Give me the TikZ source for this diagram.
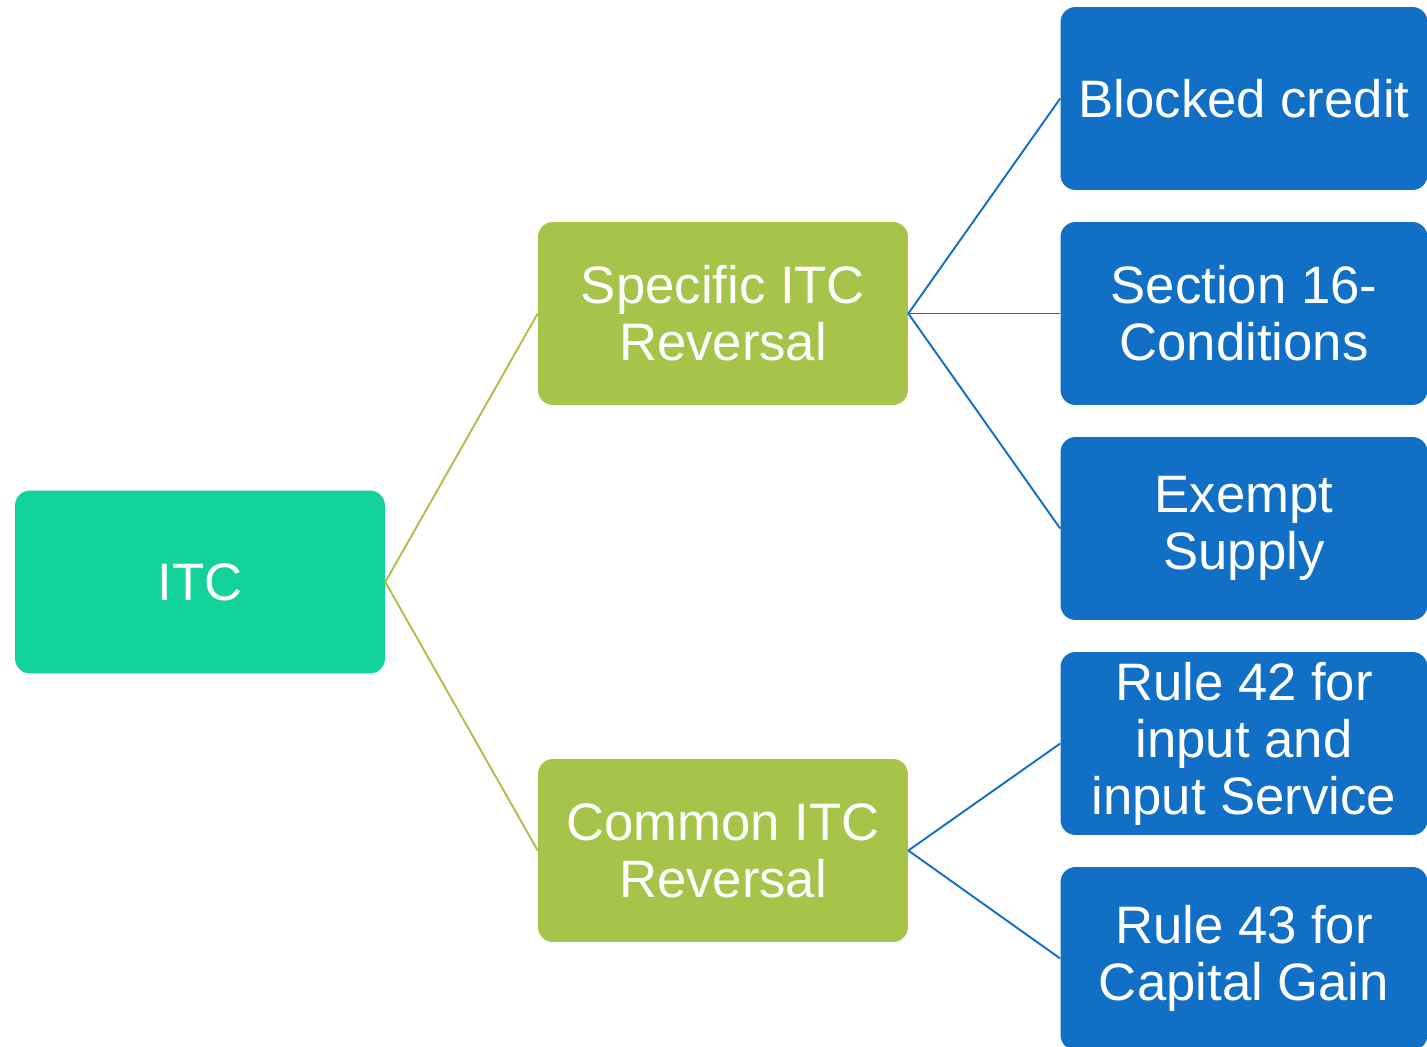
\documentclass[tikz,border=0pt]{standalone}
\usepackage{fontspec}
\setmainfont{Liberation Sans}
\usepackage{tikz}
\usetikzlibrary{positioning}
\definecolor{itcTeal}{HTML}{12D19B}
\definecolor{itcYesil}{HTML}{A6C34A}
\definecolor{itcMavi}{HTML}{1170C6}

\begin{document}
\begin{tikzpicture}[x=0.02cm,y=-0.02cm,
  kutu/.style={rounded corners=0.3cm,minimum width=7.4cm,minimum height=3.66cm,
    align=center,text=white,inner sep=0pt,font=\fontsize{30}{32.5}\selectfont},
  ana/.style={kutu,fill=itcTeal},
  orta/.style={kutu,fill=itcYesil},
  yaprak/.style={kutu,fill=itcMavi,minimum width=7.34cm},
  yesilCizgi/.style={itcYesil,line width=1.1pt},
  maviCizgi/.style={itcMavi,line width=1.1pt}]
\useasboundingbox (0,0) rectangle (1427,1046);
\node[ana] (itc) at (200,582) {ITC};
\node[orta] (spec) at (723,313.5) {Specific ITC\\Reversal};
\node[orta] (comm) at (723,850.5) {Common ITC\\Reversal};
\node[yaprak] (blok) at (1244,98.5) {Blocked credit};
\node[yaprak] (sec) at (1244,313.5) {Section 16-\\Conditions};
\node[yaprak] (muaf) at (1244,528.5) {Exempt\\Supply};
\node[yaprak] (r42) at (1244,743.5) {Rule 42 for\\input and\\input Service};
\node[yaprak] (r43) at (1244,958.5) {Rule 43 for\\Capital Gain};
\draw[yesilCizgi] (spec.west) -- (itc.east) -- (comm.west);
\foreach \b in {blok,sec,muaf} \draw[maviCizgi] (spec.east) -- (\b.west);
\foreach \b in {r42,r43} \draw[maviCizgi] (comm.east) -- (\b.west);
\end{tikzpicture}
\end{document}
